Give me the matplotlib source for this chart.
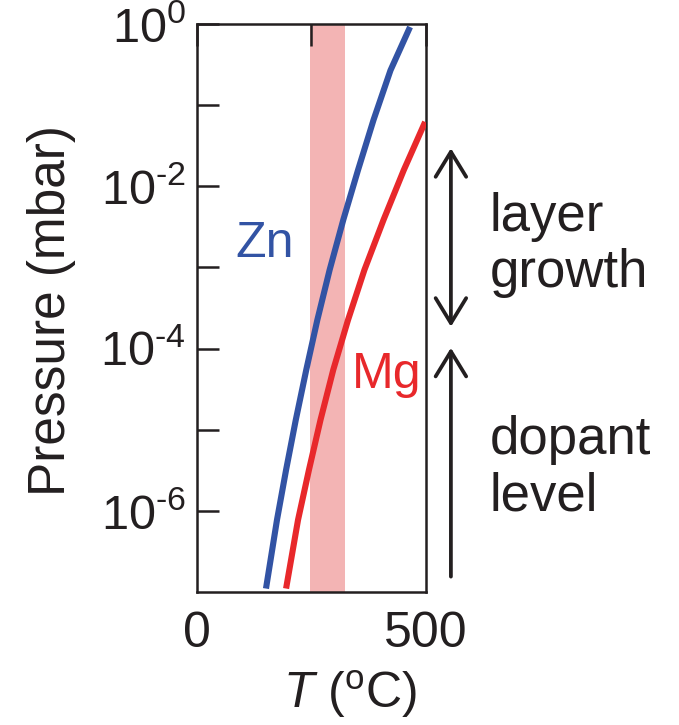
"""
Vapour pressure of Zn and Mg vs temperature, with the growth window shaded.
Output: out.png (679x725)
"""
import numpy as np
import matplotlib.pyplot as plt
from matplotlib.ticker import NullLocator

plt.rcParams['font.family'] = ['Liberation Sans', 'DejaVu Sans']
plt.rcParams['mathtext.fontset'] = 'custom'
plt.rcParams['mathtext.rm'] = 'Liberation Sans'
plt.rcParams['mathtext.it'] = 'Liberation Sans:italic'

# curves: T in degC, log10 of pressure in mbar
zn_T = [152, 175, 195, 216, 239, 263, 290, 320, 352, 386, 423, 463]
zn_logp = [-6.92, -6.11, -5.49, -4.88, -4.26, -3.65, -3.03, -2.41, -1.80, -1.18, -0.57, -0.07]
mg_T = [196, 221, 245, 270, 298, 330, 366, 408, 452, 496]
mg_logp = [-6.92, -6.11, -5.49, -4.88, -4.26, -3.65, -3.03, -2.41, -1.80, -1.24]

band_T = (248, 324)
y_exp = [0, -1, -2, -3, -4, -5, -6]
y_labels = ['$\\mathregular{10^{%s}}$' % str(e).replace('-', '\u2010') if e % 2 == 0 else ''
            for e in y_exp]
x_ticks = [0, 250, 500]
x_labels = ['0', '', '500']

dark = '#231f20'
blue = '#3253a4'
red = '#e8282b'
pink = '#f3b4b4'

fig = plt.figure(figsize=(6.79, 7.25), dpi=100)
ax = fig.add_axes([0.290, 0.1834, 0.337, 0.7834])

ax.axvspan(band_T[0], band_T[1], color=pink, lw=0, zorder=1)
ax.plot(zn_T, 10.0 ** np.array(zn_logp), color=blue, lw=4.4, zorder=3)
ax.plot(mg_T, 10.0 ** np.array(mg_logp), color=red, lw=4.4, zorder=3)

ax.set_yscale('log')
ax.set_xlim(0, 500)
ax.set_ylim(1e-7, 1e0)
ax.set_yticks([10.0 ** e for e in y_exp], y_labels)
ax.yaxis.set_minor_locator(NullLocator())
ax.set_xticks(x_ticks, x_labels)

ax.tick_params(axis='y', direction='in', length=16, width=1.8, color=dark,
               labelsize=35, labelcolor=dark, pad=8)
ax.tick_params(axis='x', direction='in', length=16, width=1.8, color=dark,
               top=True, bottom=False, labelsize=36, labelcolor=dark, pad=14)
for s in ax.spines.values():
    s.set_linewidth(1.8)
    s.set_color(dark)

ax.set_ylabel('Pressure (mbar)', fontsize=37, color=dark)
ax.yaxis.set_label_coords(-0.528, 0.495)
ax.set_xlabel('$\\mathit{T}$ ($\\mathregular{^{o}}$C)', fontsize=36, color=dark)
ax.xaxis.set_label_coords(0.67, -0.134)

# element labels
ax.text(83, 10 ** -2.87, 'Zn', color=blue, fontsize=36, ha='left', va='baseline')
ax.text(338, 10 ** -4.48, 'Mg', color=red, fontsize=36, ha='left', va='baseline')

# regime arrows and notes to the right of the axes
head = 'head_length=0.9,head_width=0.55'
ax.annotate('', xy=(555, 10 ** -1.53), xytext=(555, 10 ** -3.73),
            arrowprops=dict(arrowstyle='<->,' + head, lw=2.7, color=dark,
                            mutation_scale=20, shrinkA=0, shrinkB=0),
            annotation_clip=False)
ax.annotate('', xy=(555, 10 ** -3.99), xytext=(555, 10 ** -6.81),
            arrowprops=dict(arrowstyle='->,' + head, lw=2.7, color=dark,
                            mutation_scale=20, shrinkA=0, shrinkB=0),
            annotation_clip=False)
# va='baseline' sits on the last line's baseline
ax.text(640, 10 ** -3.24, 'layer\ngrowth', fontsize=38, color=dark,
        ha='left', va='baseline', linespacing=1.15)
ax.text(640, 10 ** -5.99, 'dopant\nlevel', fontsize=38, color=dark,
        ha='left', va='baseline', linespacing=1.15)

fig.savefig('out.png', dpi=100)
